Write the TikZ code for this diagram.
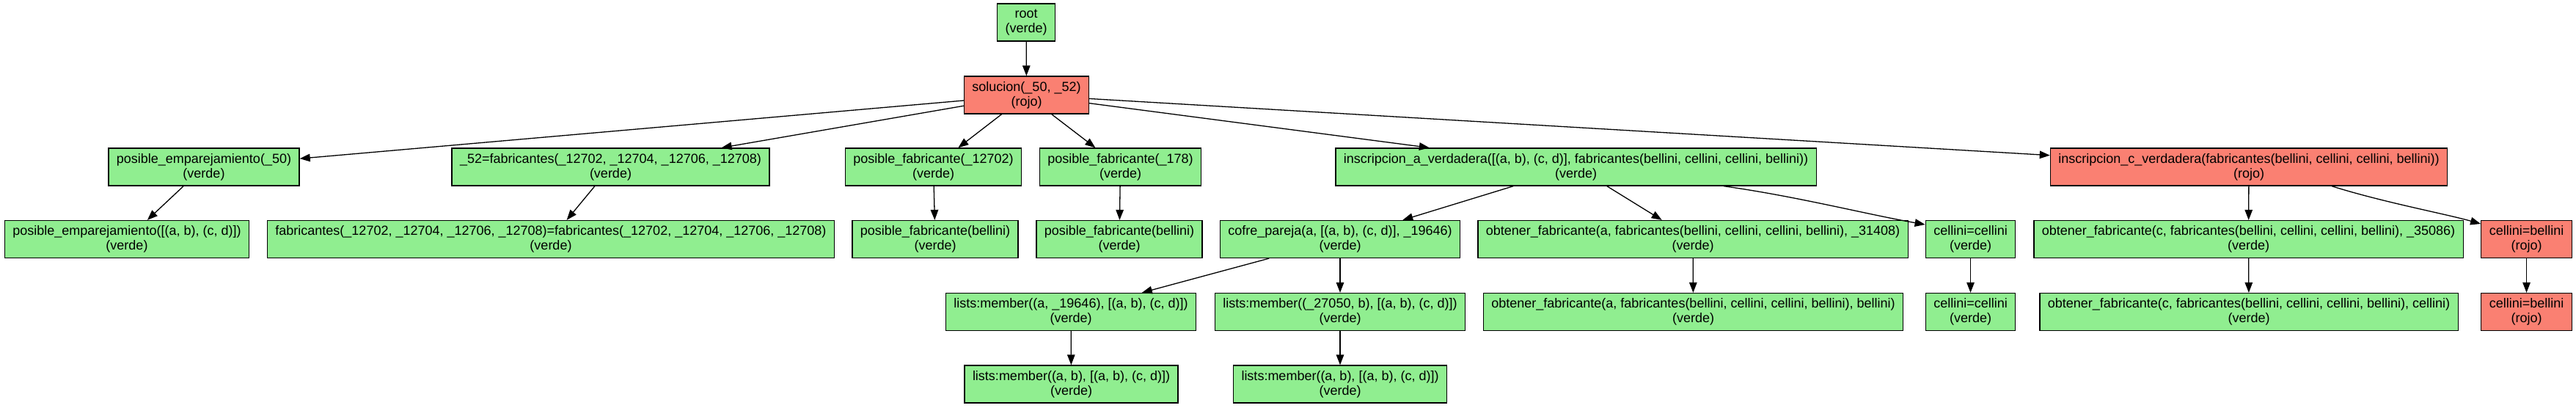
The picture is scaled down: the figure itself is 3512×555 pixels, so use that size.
\documentclass[tikz,border=0pt]{standalone}
\usepackage{fontspec}
\setmainfont{Liberation Sans}
\usetikzlibrary{arrows.meta}
\definecolor{verde}{RGB}{144,238,144}
\definecolor{rojo}{RGB}{250,128,114}
\tikzset{
  box/.style={draw=black, line width=1.3pt, rectangle, align=center,
    font=\fontsize{18}{20}\selectfont, inner xsep=11pt, inner ysep=2pt,
    minimum height=51pt},
  gbox/.style={box, fill=verde},
  rbox/.style={box, fill=rojo},
  edge/.style={draw=black, line width=1.3pt, -{Triangle[length=14pt,width=10.5pt]}}
}
\begin{document}
\begin{tikzpicture}[x=1pt,y=-1pt]
\useasboundingbox (0,0) rectangle (3512,555);
% row 1-2
\node[gbox] (root) at (1399,30.5) {root\\(verde)};
\node[rbox] (sol) at (1399.5,129.5) {solucion(\_50, \_52)\\(rojo)};
% row 3
\node[gbox] (emp50) at (278,227.5) {posible\_emparejamiento(\_50)\\(verde)};
\node[gbox] (f52) at (832.5,227.5) {\_52=fabricantes(\_12702, \_12704, \_12706, \_12708)\\(verde)};
\node[gbox] (pf1) at (1272.5,227.5) {posible\_fabricante(\_12702)\\(verde)};
\node[gbox] (pf2) at (1527.5,227.5) {posible\_fabricante(\_178)\\(verde)};
\node[gbox] (insa) at (2148.5,227.5) {inscripcion\_a\_verdadera([(a, b), (c, d)], fabricantes(bellini, cellini, cellini, bellini))\\(verde)};
\node[rbox] (insc) at (3066,227.5) {inscripcion\_c\_verdadera(fabricantes(bellini, cellini, cellini, bellini))\\(rojo)};
% row 4
\node[gbox] (empab) at (173,326) {posible\_emparejamiento([(a, b), (c, d)])\\(verde)};
\node[gbox] (fabeq) at (751,326) {fabricantes(\_12702, \_12704, \_12706, \_12708)=fabricantes(\_12702, \_12704, \_12706, \_12708)\\(verde)};
\node[gbox] (pfb1) at (1275,326) {posible\_fabricante(bellini)\\(verde)};
\node[gbox] (pfb2) at (1526,326) {posible\_fabricante(bellini)\\(verde)};
\node[gbox] (cofre) at (1827,326) {cofre\_pareja(a, [(a, b), (c, d)], \_19646)\\(verde)};
\node[gbox] (obta) at (2308,326) {obtener\_fabricante(a, fabricantes(bellini, cellini, cellini, bellini), \_31408)\\(verde)};
\node[gbox] (cc1) at (2686.5,326) {cellini=cellini\\(verde)};
\node[gbox] (obtc) at (3065.5,326) {obtener\_fabricante(c, fabricantes(bellini, cellini, cellini, bellini), \_35086)\\(verde)};
\node[rbox] (cb1) at (3444.5,326) {cellini=bellini\\(rojo)};
% row 5
\node[gbox] (lm1) at (1460,425) {lists:member((a, \_19646), [(a, b), (c, d)])\\(verde)};
\node[gbox] (lm2) at (1827,425) {lists:member((\_27050, b), [(a, b), (c, d)])\\(verde)};
\node[gbox] (obta2) at (2308.5,425) {obtener\_fabricante(a, fabricantes(bellini, cellini, cellini, bellini), bellini)\\(verde)};
\node[gbox] (cc2) at (2686.5,425) {cellini=cellini\\(verde)};
\node[gbox] (obtc2) at (3066,425) {obtener\_fabricante(c, fabricantes(bellini, cellini, cellini, bellini), cellini)\\(verde)};
\node[rbox] (cb2) at (3444.5,425) {cellini=bellini\\(rojo)};
% row 6
\node[gbox] (lm3) at (1460.5,523.5) {lists:member((a, b), [(a, b), (c, d)])\\(verde)};
\node[gbox] (lm4) at (1827,523.5) {lists:member((a, b), [(a, b), (c, d)])\\(verde)};
% edges
\draw[edge] (root) -- (sol);
\draw[edge] (sol) -- (emp50);
\draw[edge] (sol) -- (f52);
\draw[edge] (sol) -- (pf1);
\draw[edge] (sol) -- (pf2);
\draw[edge] (sol) -- (insa);
\draw[edge] (sol) -- (insc);
\draw[edge] (emp50) -- (empab);
\draw[edge] (f52) -- (fabeq);
\draw[edge] (pf1) -- (pfb1);
\draw[edge] (pf2) -- (pfb2);
\draw[edge] (insa) -- (cofre);
\draw[edge] (insa) -- (obta);
\draw[edge] ([xshift=201.5pt]insa.south) .. controls +(100,14) and +(-80,-14) .. ([yshift=20pt]cc1.west);
\draw[edge] (insc) -- (obtc);
\draw[edge] ([xshift=113pt]insc.south) .. controls +(70,22) and +(-50,-14) .. ([yshift=21pt]cb1.west);
\draw[edge] (cofre) -- (lm1);
\draw[edge] (cofre) -- (lm2);
\draw[edge] (obta) -- (obta2);
\draw[edge] (cc1) -- (cc2);
\draw[edge] (obtc) -- (obtc2);
\draw[edge] (cb1) -- (cb2);
\draw[edge] (lm1) -- (lm3);
\draw[edge] (lm2) -- (lm4);
\end{tikzpicture}
\end{document}
